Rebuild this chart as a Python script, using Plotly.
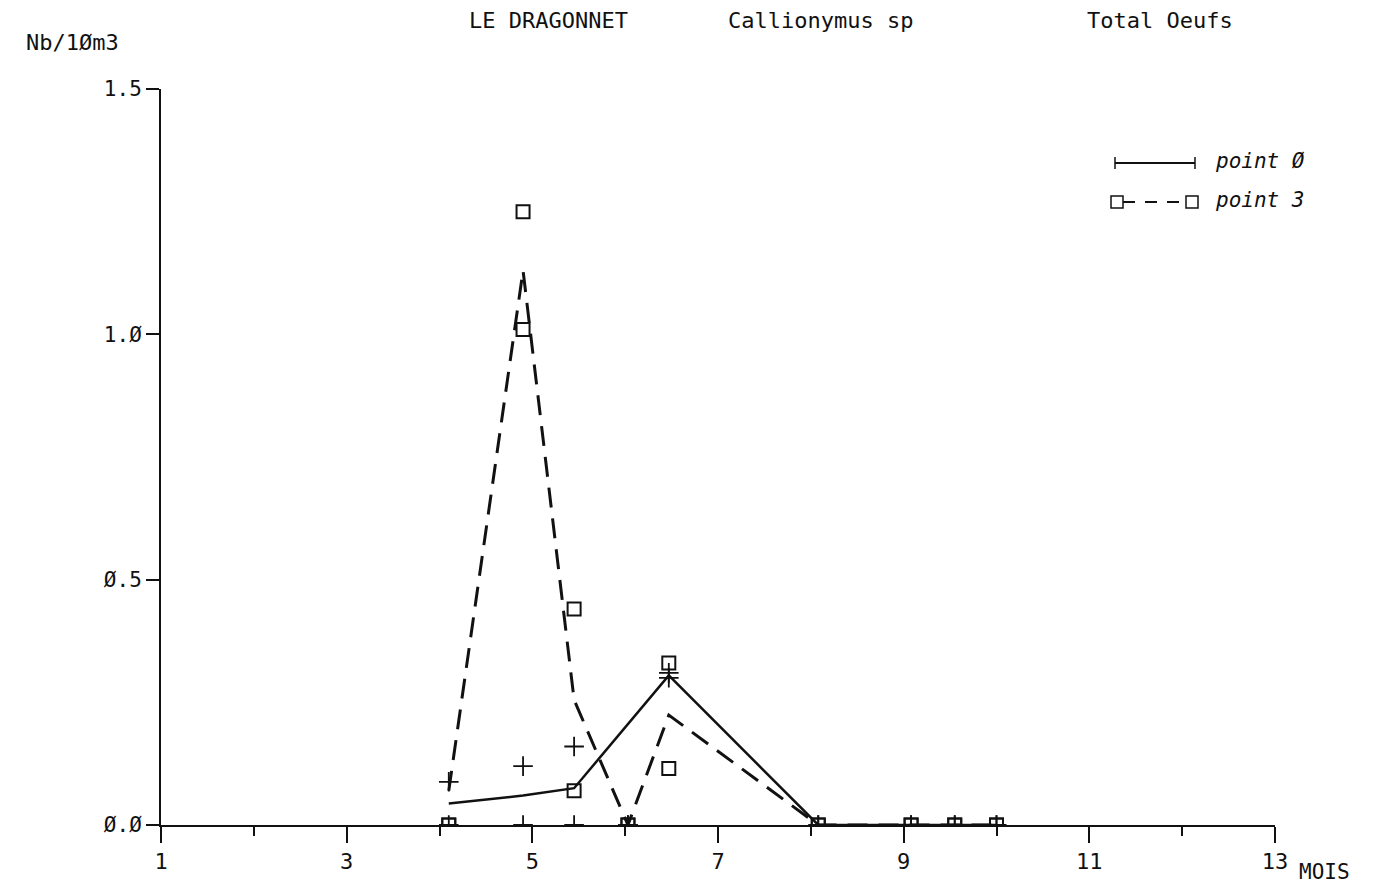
import plotly.graph_objects as go

# ---- data ----
mois = [4.1, 4.9, 5.45, 6.03, 6.47, 8.08, 9.08, 9.55, 10.0]

# point 0 : two samples per survey + mean line
p0_a = [0.088, 0.12, 0.16, 0.0, 0.31, 0.0, 0.0, 0.0, 0.0]
p0_b = [0.0, 0.0, 0.0, 0.0, 0.30, 0.0, 0.0, 0.0, 0.0]
p0_moy = [0.044, 0.06, 0.075, None, 0.305, 0.0, 0.0, 0.0, 0.0]

# point 3
p3_a = [0.0, 1.25, 0.44, 0.0, 0.33, 0.0, 0.0, 0.0, 0.0]
p3_b = [0.0, 1.01, 0.07, 0.0, 0.115, 0.0, 0.0, 0.0, 0.0]
p3_moy = [0.07, 1.13, 0.255, 0.0, 0.224, 0.0, 0.0, 0.0, 0.0]

x_ticks = [1, 3, 5, 7, 9, 11, 13]
y_ticks = [0.0, 0.5, 1.0, 1.5]
y_labels = ["Ø.Ø", "Ø.5", "1.Ø", "1.5"]

INK = "#111111"
FONT = "DejaVu Sans Mono"

# page offset (body margin) and plot area in page pixels
OFF = 8
W, H = 1378, 887
L, R, T, B = 161, 1275, 89, 825


def px(p):
    return (p - L) / (R - L)


def py(p):
    return (B - p) / (B - T)


fig = go.Figure()

# mean lines
fig.add_trace(go.Scatter(
    x=mois, y=p3_moy, mode="lines", connectgaps=True,
    line=dict(color=INK, width=3, dash="20px,11px"), hoverinfo="skip",
))
fig.add_trace(go.Scatter(
    x=mois, y=p0_moy, mode="lines", connectgaps=True,
    line=dict(color=INK, width=2.5), hoverinfo="skip",
))

# sample markers
for ys in (p3_a, p3_b):
    fig.add_trace(go.Scatter(
        x=mois, y=ys, mode="markers",
        marker=dict(symbol="square-open", size=13, color=INK, line=dict(width=2)),
    ))
for ys in (p0_a, p0_b):
    fig.add_trace(go.Scatter(
        x=mois, y=ys, mode="markers",
        marker=dict(symbol="cross-thin", size=14, color=INK, line=dict(width=1.8, color=INK)),
    ))

shapes = []
# y axis running a bit below the x axis
shapes.append(dict(type="line", xref="paper", yref="paper", x0=0, x1=0,
                   y0=0, y1=py(840), line=dict(color=INK, width=2)))

# legend, drawn like the plotter does it
ly1, ly2 = 163, 202
shapes.append(dict(type="line", xref="paper", yref="paper", x0=px(1115), x1=px(1195),
                   y0=py(ly1), y1=py(ly1), line=dict(color=INK, width=2)))
for xx in (1115, 1195):
    shapes.append(dict(type="line", xref="paper", yref="paper", x0=px(xx), x1=px(xx),
                       y0=py(ly1 - 6), y1=py(ly1 + 6), line=dict(color=INK, width=1.5)))
shapes.append(dict(type="line", xref="paper", yref="paper", x0=px(1123), x1=px(1187),
                   y0=py(ly2), y1=py(ly2), line=dict(color=INK, width=2, dash="12px,10px")))
for xx in (1117, 1192):
    shapes.append(dict(type="rect", xref="paper", yref="paper", x0=px(xx - 6), x1=px(xx + 6),
                       y0=py(ly2 - 6), y1=py(ly2 + 6), line=dict(color=INK, width=1.5)))

annotations = [
    dict(text="LE DRAGONNET", x=px(548), y=py(20), size=22),
    dict(text="Callionymus sp", x=px(820), y=py(20), size=22),
    dict(text="Total Oeufs", x=px(1160), y=py(20), size=22),
    dict(text="Nb/1Øm3", x=px(72), y=py(42), size=22),
    dict(text="MOIS", x=px(1324), y=py(872), size=21),
    dict(text="<i>point Ø</i>", x=px(1213), y=py(ly1 - 2), xanchor="left", size=21),
    dict(text="<i>point 3</i>", x=px(1213), y=py(ly2 - 2), xanchor="left", size=21),
]
for a in annotations:
    size = a.pop("size")
    a.update(xref="paper", yref="paper", showarrow=False,
             font=dict(family=FONT, size=size, color=INK))
    a.setdefault("xanchor", "center")
    a["yanchor"] = "middle"

fig.update_layout(
    width=W - OFF, height=H - OFF,
    margin=dict(l=L - OFF, r=W - R, t=T - OFF, b=H - B, autoexpand=False),
    paper_bgcolor="white", plot_bgcolor="white",
    showlegend=False,
    font=dict(family=FONT, size=20, color=INK),
    shapes=shapes, annotations=annotations,
    xaxis=dict(
        range=[1, 13], tickvals=x_ticks, ticktext=[str(v) for v in x_ticks],
        showgrid=False, zeroline=False, showline=True, linecolor=INK, linewidth=2,
        ticks="outside", ticklen=16, tickwidth=1.5, tickcolor=INK,
        minor=dict(dtick=1, tick0=0, ticks="outside", ticklen=9, tickwidth=1.5, tickcolor=INK),
        tickfont=dict(family=FONT, size=22, color=INK),
    ),
    yaxis=dict(
        range=[0, 1.5], tickvals=y_ticks, ticktext=y_labels,
        showgrid=False, zeroline=False, showline=True, linecolor=INK, linewidth=2,
        ticks="outside", ticklen=13, tickwidth=1.5, tickcolor=INK,
        tickfont=dict(family=FONT, size=21, color=INK),
    ),
)

fig.write_html("out.html")
